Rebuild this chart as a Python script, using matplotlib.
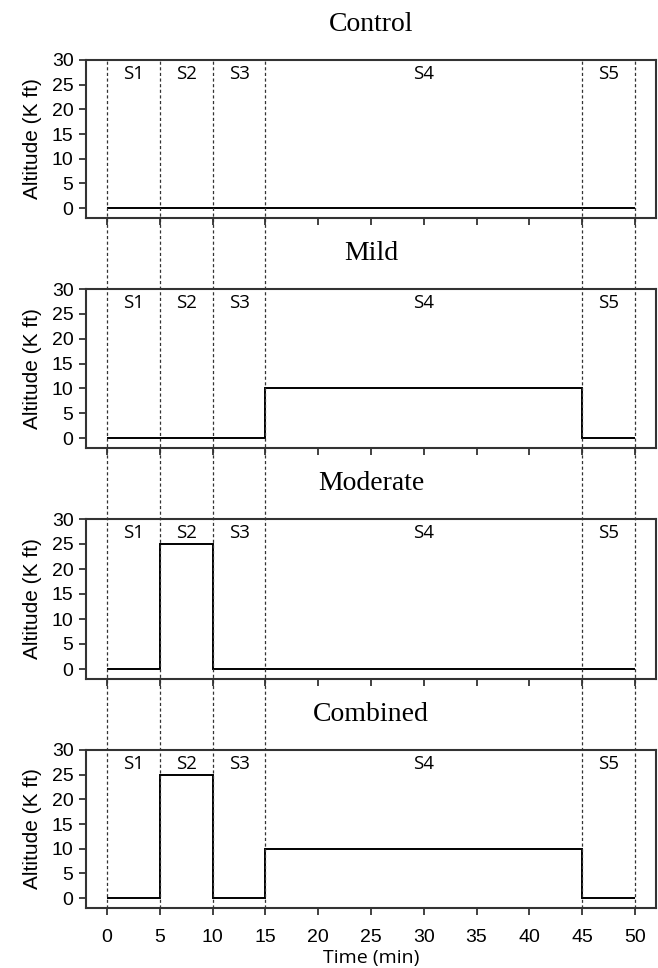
import matplotlib
matplotlib.use("Agg")
import matplotlib.pyplot as plt

# stage boundaries (min) and names
edges = [0, 5, 10, 15, 45, 50]
stages = ["S1", "S2", "S3", "S4", "S5"]

# altitude (K ft) in each stage
conditions = ["Control", "Mild", "Moderate", "Combined"]
control = [0, 0, 0, 0, 0]
mild = [0, 0, 0, 10, 0]
moderate = [0, 25, 0, 0, 0]
combined = [0, 25, 0, 10, 0]
profiles = [control, mild, moderate, combined]

xticks = list(range(0, 55, 5))
yticks = list(range(0, 35, 5))

W, H = 658, 968
fig = plt.figure(figsize=(W / 100, H / 100), dpi=100)

tops = [60, 289, 519, 750]
bottoms = [218, 448, 679, 908]
left, right = 86, 656
sans = "Liberation Sans"
seg = "Open Sans"
spine_col = "#333333"

axes = []
for i, (name, vals) in enumerate(zip(conditions, profiles)):
    ax = fig.add_axes([left / W, 1 - bottoms[i] / H, (right - left) / W,
                       (bottoms[i] - tops[i]) / H])
    ax.stairs(vals, edges, baseline=None, color="black", lw=1.4)
    ax.set_xlim(-2, 52)
    ax.set_ylim(-2, 30)
    ax.set_xticks(xticks)
    ax.set_yticks(yticks)
    ax.tick_params(direction="out", length=5, width=1.3, color=spine_col,
                   labelsize=14)
    ax.tick_params(axis="y", pad=4)
    ax.tick_params(axis="x", pad=10)
    for s in ax.spines.values():
        s.set_color(spine_col)
        s.set_linewidth(1.5)
    for lab in ax.get_yticklabels() + ax.get_xticklabels():
        lab.set_family(sans)
    if i < 3:
        ax.set_xticklabels([])
    ax.set_ylabel("Altitude (K ft)", family=sans, fontsize=15, labelpad=7)
    ax.set_title(name, family="Liberation Serif", fontsize=20, pad=21)
    for j, st in enumerate(stages):
        ax.text((edges[j] + edges[j + 1]) / 2, 27.2, st, ha="center",
                va="center", family=seg, fontsize=13.5)
    axes.append(ax)

axes[-1].set_xlabel("Time (min)", family=seg, fontsize=14, labelpad=2)

# dashed stage boundaries running through all panels
ov = fig.add_axes([left / W, 1 - bottoms[-1] / H, (right - left) / W,
                   (bottoms[-1] - tops[0]) / H])
ov.set_xlim(-2, 52)
ov.set_ylim(0, 1)
ov.axis("off")
for e in edges:
    ov.axvline(e, color="#333333", lw=0.9, ls=(0, (2.5, 2)))

fig.savefig("out.png", dpi=100)
